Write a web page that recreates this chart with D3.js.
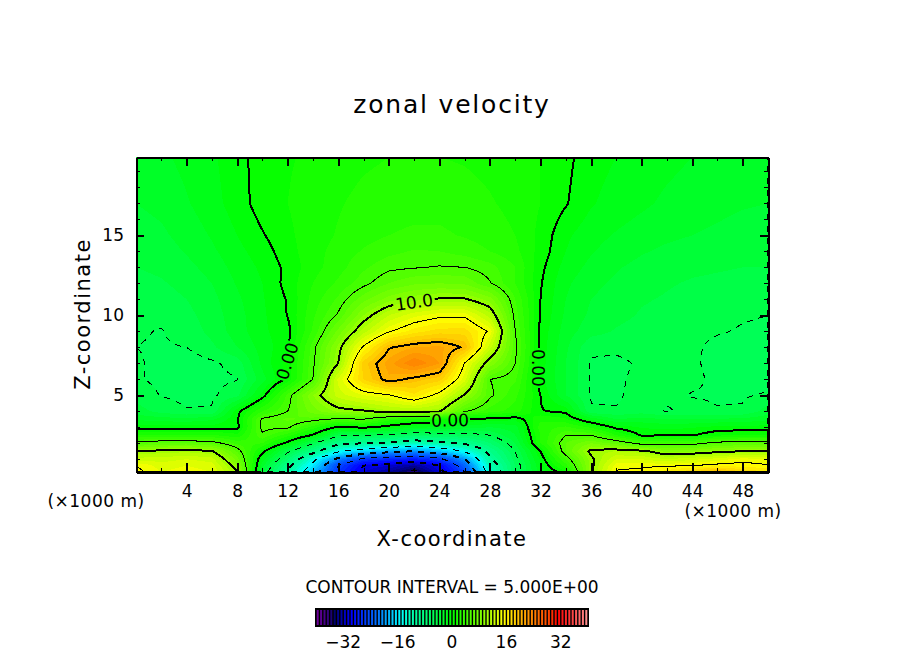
<!DOCTYPE html>
<html>
<head>
<meta charset="utf-8">
<script src="https://cdn.jsdelivr.net/npm/d3@7/dist/d3.min.js"></script>
<style>
  html, body { margin: 0; padding: 0; background: #fff; }
  svg { display: block; }
  text { font-family: "DejaVu Sans", sans-serif; fill: #000; }
</style>
</head>
<body>
<div class="chart"></div>
<script>
// x nodes (in 1000 m) and z nodes of the velocity table
var xNodes = [0, 2, 4, 6, 8, 10, 12, 14, 16, 18, 20, 22, 24, 26, 28, 30, 32, 34, 36, 38, 40, 42, 44, 46, 48, 50];
var zNodes = [0.2, 0.6, 1, 1.5, 2, 2.5, 3, 3.5, 4, 5, 6, 7, 8, 9, 10, 11, 12, 13, 14, 15, 17, 19.9];

// one row per z node, bottom row first
var zonalVelocity = [
  [15.5, 14, 14.5, 14, 10.2, -3.5, -10.5, -18, -26, -31, -33, -36, -31, -25, -13, -6, -1.5, 0.7, 9.7, 15.2, 15.5, 16.5, 18, 20.4, 18, 17],
  [15, 13.5, 14, 13.5, 9, -2.6, -9, -16, -25, -30, -31, -33, -30, -23, -12, -6, -1.2, 2.5, 9.5, 14.5, 14.7, 14.8, 15, 15.5, 15.6, 15.2],
  [12.5, 12.5, 13, 12.5, 7.6, -1.5, -6.8, -14, -21, -26, -27, -28, -26, -20, -10.5, -5.5, -0.8, 4, 9.6, 13, 13, 12, 12.7, 13.5, 14.5, 14],
  [10, 10.5, 10.7, 10.2, 5.8, 0.5, -4.6, -8.5, -14.5, -17, -19, -20, -18, -14.5, -9, -5, 0, 6, 10.5, 11, 10.5, 8.6, 8.8, 9.5, 10, 10],
  [5.5, 6.2, 6.3, 5.8, 3.7, 3, -0.5, -4.8, -9, -10, -10.5, -12, -11, -9.5, -7, -4, 2, 6, 8, 6.5, 4.2, 4.2, 4.3, 5.7, 6, 6],
  [2, 2.1, 2.1, 2.1, 1.3, 4.8, 2.4, -0.2, -4.5, -5, -5.5, -6.5, -6, -5.8, -5, -3, 2, 5, 5, 2, -0.2, -0.1, -0.1, 0.8, 1, 1],
  [-0.4, -0.5, -0.5, -0.5, -0.4, 5.4, 5.3, 2.5, -0.3, 0.3, -0.6, -1.7, -2, -2.5, -3, -2.5, 2.5, 3.2, 1.8, -0.4, -1.1, -1.3, -1.1, -0.7, -0.6, -0.6],
  [-2.2, -2.5, -2.7, -2.2, -0.2, 5.3, 6.2, 5.6, 4.6, 5, 2.5, 1.7, 1.2, -0.3, -0.4, -0.8, 1.8, 1.2, -1.3, -3, -2.6, -3, -3, -2.9, -2.7, -2.3],
  [-3.5, -4.4, -4.9, -4.9, -0.4, 3, 5, 7.5, 9.3, 9.8, 10.8, 11, 10.3, 5.2, 3.5, 2.5, 0.1, -0.3, -4.9, -4.9, -4.5, -5.1, -4.7, -4.95, -4.9, -3.5],
  [-4.5, -5.05, -5.3, -5.2, -4.3, -0.6, 4.3, 9, 12.5, 14, 14.8, 16.8, 14.3, 9.8, 5.3, 3.3, 0, -3, -5.1, -5.2, -4.5, -4.8, -5.05, -5.1, -5.1, -4.9],
  [-4.9, -5.2, -5.6, -5.3, -5.05, -2.4, 0.3, 5, 13.3, 18, 20.8, 19.5, 18.5, 13.5, 5, 4.2, -0.7, -3, -5.1, -5.2, -4.7, -4.7, -4.8, -5.2, -5.5, -5.3],
  [-4.9, -5.2, -5.6, -5.2, -4.6, -1.7, 0.4, 4.7, 10, 18.5, 21.5, 24, 22, 14.9, 8.8, 5, -0.5, -3, -5.1, -5.3, -4.8, -4.7, -4.9, -5.2, -5.5, -5.6],
  [-5, -5.1, -5, -4.2, -3, -1.6, -0.2, 4.5, 9.3, 15.3, 19.8, 21, 21.3, 19.8, 12.4, 5.4, -0.4, -2.8, -4.8, -4.7, -4.6, -4.6, -4.8, -5.3, -5.5, -5.6],
  [-4.9, -5.05, -4.6, -3.7, -2.5, -1.2, -0.4, 3.2, 7.3, 11.5, 14.8, 16.5, 17.5, 17.5, 14.7, 5, -0.3, -2.5, -3.6, -4.1, -4.4, -4.6, -4.7, -4.9, -5.1, -5.2],
  [-4.9, -4.8, -4.3, -3.5, -2.4, -1.2, 0.05, 2.8, 5.2, 9, 12, 13.7, 14.6, 14.7, 11.5, 4.5, -0.1, -2.2, -3.2, -3.7, -4.1, -4.3, -4.5, -4.7, -4.9, -5],
  [-4.6, -4.4, -4, -3.3, -2.2, -1.1, 0.1, 2.4, 4.2, 6.6, 8.5, 9.6, 10.2, 10.2, 8.5, 4, 0, -2, -3, -3.5, -3.9, -4.1, -4.3, -4.4, -4.5, -4.6],
  [-4.3, -4.1, -3.7, -3, -1.9, -1, 0.4, 2, 3.2, 4.6, 6, 6.8, 7, 6.8, 5.1, 3, 0.1, -1.8, -2.7, -3.2, -3.6, -3.9, -4.1, -4.2, -4.3, -4.3],
  [-4, -3.8, -3.3, -2.6, -1.6, -0.8, 0.3, 1.6, 2.6, 3.8, 4.7, 4.9, 5.1, 5, 4.4, 3, 0.3, -1.4, -2.3, -2.9, -3.3, -3.6, -3.8, -3.9, -4, -4],
  [-3.8, -3.5, -2.9, -2.2, -1.3, -0.5, 0.6, 1.6, 2.4, 3.1, 3.7, 4.1, 4, 3.6, 3, 2.3, 0.6, -1, -1.9, -2.5, -2.9, -3.2, -3.4, -3.6, -3.7, -3.8],
  [-3.5, -3.2, -2.6, -1.9, -1, -0.1, 0.8, 1.5, 2.1, 2.6, 3, 3.2, 3.2, 2.9, 2.5, 2, 0.7, -0.8, -1.6, -2.1, -2.5, -2.8, -3, -3.2, -3.4, -3.5],
  [-3, -2.7, -2.1, -1.4, -0.5, 0.5, 1, 1.5, 1.9, 2.3, 2.5, 2.6, 2.6, 2.4, 2.1, 1.7, 1, 0.1, -0.9, -1.4, -1.8, -2.2, -2.5, -2.7, -2.9, -3],
  [-2.5, -2.2, -1.7, -1.2, -0.3, 0.4, 0.9, 1.2, 1.5, 1.8, 2, 2, 2, 1.9, 1.7, 1.3, 1, 0.3, -0.6, -1, -1.4, -1.7, -2, -2.2, -2.4, -2.5]
];

// ticks and labels
var xMajorTicks = [4, 8, 12, 16, 20, 24, 28, 32, 36, 40, 44, 48];
var xMinorTicks = [2, 6, 10, 14, 18, 22, 26, 30, 34, 38, 42, 46];
var zMajorTicks = [5, 10, 15];
var zMinorTicks = [1, 2, 3, 4, 6, 7, 8, 9, 11, 12, 13, 14, 16, 17, 18, 19];
var barTicks = [-32, -16, 0, 16, 32];
var contourLevels = [-35, -30, -25, -20, -15, -10, -5, 0, 5, 10, 15, 20];

// colour table, same stops as the bar
var colorStops = [-40, -36, -34.5, -29.5, -21.6, -15, -12, -7, 0, 8.7, 15.2, 21, 29, 31, 35, 40];
var colorValues = ["#7800a0", "#280078", "#00006e", "#0000ff", "#0078ff", "#00ffff", "#00ffb4", "#00ff6e",
  "#00ff00", "#82ff00", "#ffff00", "#ffaa00", "#ff3c00", "#ff0000", "#ff3c3c", "#ff9696"];

var svgWidth = 904;
var svgHeight = 654;

var margin = { top: 157, right: 136, bottom: 182, left: 136 };
var width = svgWidth - margin.left - margin.right;
var height = svgHeight - margin.top - margin.bottom;

var svg = d3.select(".chart")
  .append("svg")
  .attr("width", svgWidth)
  .attr("height", svgHeight);

var chartGroup = svg.append("g")
  .attr("transform", `translate(${margin.left}, ${margin.top})`);

var xScale = d3.scaleLinear().domain([0, 50]).range([0, width]);
var zScale = d3.scaleLinear().domain([0.2, 19.9]).range([height, 0]);
var color = d3.scaleLinear().domain(colorStops).range(colorValues);

// bilinear lookup in the table
function velocityAt(x, z) {
  var i = Math.min(d3.bisectRight(xNodes, x) - 1, xNodes.length - 2);
  var j = Math.min(d3.bisectRight(zNodes, z) - 1, zNodes.length - 2);
  i = Math.max(i, 0);
  j = Math.max(j, 0);
  var tx = (x - xNodes[i]) / (xNodes[i + 1] - xNodes[i]);
  var tz = (z - zNodes[j]) / (zNodes[j + 1] - zNodes[j]);
  var low = zonalVelocity[j][i] * (1 - tx) + zonalVelocity[j][i + 1] * tx;
  var high = zonalVelocity[j + 1][i] * (1 - tx) + zonalVelocity[j + 1][i + 1] * tx;
  return low * (1 - tz) + high * tz;
}

// sample the table once per pixel for d3.contours
var grid = new Float64Array(width * height);
for (var py = 0; py < height; py++) {
  for (var px = 0; px < width; px++) {
    grid[py * width + px] = velocityAt(xScale.invert(px + 0.5), zScale.invert(py + 0.5));
  }
}

var contours = d3.contours().size([width, height]);
var path = d3.geoPath();

// filled bands, one colour per unit of velocity
var bandLevels = d3.range(-40, 41);
chartGroup.append("rect")
  .attr("width", width)
  .attr("height", height)
  .attr("fill", color(-40));

chartGroup.append("g")
  .selectAll("path")
  .data(contours.thresholds(bandLevels)(grid))
  .enter()
  .append("path")
  .attr("d", path)
  .attr("fill", d => color(d.value + 0.5))
  .attr("shape-rendering", "crispEdges");

// contour labels sit in gaps in the lines
var contourLabels = [
  { text: "10.0", x: 414, y: 302, angle: -8, w: 42, h: 16 },
  { text: "0.00", x: 450, y: 420, angle: -1, w: 40, h: 16 },
  { text: "0.00", x: 287, y: 361, angle: -72, w: 40, h: 14 },
  { text: "0.00", x: 538, y: 368, angle: 90, w: 40, h: 14 }
];

var mask = svg.append("defs").append("mask")
  .attr("id", "label-gaps")
  .attr("maskUnits", "userSpaceOnUse")
  .attr("x", 0).attr("y", 0)
  .attr("width", width).attr("height", height);

mask.append("rect")
  .attr("width", width)
  .attr("height", height)
  .attr("fill", "#fff");

mask.selectAll("rect.gap")
  .data(contourLabels)
  .enter()
  .append("rect")
  .attr("class", "gap")
  .attr("x", d => -d.w / 2)
  .attr("y", d => -d.h / 2)
  .attr("width", d => d.w)
  .attr("height", d => d.h)
  .attr("fill", "#000")
  .attr("transform", d => `translate(${d.x - margin.left}, ${d.y - margin.top}) rotate(${d.angle})`);

// contour lines: every other level is heavy, negative levels are dashed
chartGroup.append("g")
  .attr("mask", "url(#label-gaps)")
  .selectAll("path")
  .data(contours.thresholds(contourLevels)(grid))
  .enter()
  .append("path")
  .attr("d", path)
  .attr("fill", "none")
  .attr("stroke", "#000")
  .attr("stroke-width", d => d.value % 10 === 0 ? 2 : 1)
  .attr("stroke-dasharray", d => d.value < 0 ? "6 6" : null)
  .attr("shape-rendering", "crispEdges");

chartGroup.selectAll("text.contour-label")
  .data(contourLabels)
  .enter()
  .append("text")
  .attr("class", "contour-label")
  .attr("text-anchor", "middle")
  .attr("dy", "0.37em")
  .attr("font-size", 17)
  .attr("transform", d => `translate(${d.x - margin.left}, ${d.y - margin.top}) rotate(${d.angle})`)
  .text(d => d.text);

// frame and ticks on all four sides
function drawAxis(axis, dx, dy, tickWidth) {
  var g = chartGroup.append("g")
    .attr("transform", `translate(${dx}, ${dy})`)
    .call(axis);
  g.select(".domain").attr("stroke-width", 2).attr("shape-rendering", "crispEdges");
  g.selectAll(".tick line").attr("stroke-width", tickWidth).attr("shape-rendering", "crispEdges");
  g.selectAll("text").attr("font-size", 17).attr("font-family", "DejaVu Sans");
  return g;
}

function noLabels(axis) {
  return axis.tickFormat("").tickSizeOuter(0);
}

drawAxis(d3.axisBottom(xScale).tickValues(xMajorTicks).tickFormat(d3.format("d"))
  .tickSizeInner(-9).tickSizeOuter(0).tickPadding(13), 0, height, 2);
drawAxis(noLabels(d3.axisBottom(xScale).tickValues(xMinorTicks).tickSizeInner(-4)), 0, height, 1);
drawAxis(noLabels(d3.axisTop(xScale).tickValues(xMajorTicks).tickSizeInner(-9)), 0, 0, 2);
drawAxis(noLabels(d3.axisTop(xScale).tickValues(xMinorTicks).tickSizeInner(-4)), 0, 0, 1);

drawAxis(d3.axisLeft(zScale).tickValues(zMajorTicks).tickFormat(d3.format("d"))
  .tickSizeInner(-8).tickSizeOuter(0).tickPadding(12), 0, 0, 2);
drawAxis(noLabels(d3.axisLeft(zScale).tickValues(zMinorTicks).tickSizeInner(-4)), 0, 0, 1);
drawAxis(noLabels(d3.axisRight(zScale).tickValues(zMajorTicks).tickSizeInner(-8)), width, 0, 2);
drawAxis(noLabels(d3.axisRight(zScale).tickValues(zMinorTicks).tickSizeInner(-4)), width, 0, 1);

// titles
svg.append("text")
  .attr("x", 452).attr("y", 113)
  .attr("text-anchor", "middle")
  .attr("font-size", 25)
  .attr("letter-spacing", 1.8)
  .text("zonal velocity");

svg.append("text")
  .attr("x", 452).attr("y", 546)
  .attr("text-anchor", "middle")
  .attr("font-size", 21)
  .attr("letter-spacing", 1.5)
  .text("X-coordinate");

svg.append("text")
  .attr("transform", "translate(90, 314) rotate(-90)")
  .attr("text-anchor", "middle")
  .attr("font-size", 21)
  .attr("letter-spacing", 1.5)
  .text("Z-coordinate");

svg.append("text")
  .attr("x", 96).attr("y", 507)
  .attr("text-anchor", "middle")
  .attr("font-size", 17)
  .attr("letter-spacing", 0.5)
  .text("(×1000 m)");

svg.append("text")
  .attr("x", 733).attr("y", 517)
  .attr("text-anchor", "middle")
  .attr("font-size", 17)
  .attr("letter-spacing", 0.5)
  .text("(×1000 m)");

svg.append("text")
  .attr("x", 452).attr("y", 593)
  .attr("text-anchor", "middle")
  .attr("font-size", 17)
  .text("CONTOUR INTERVAL = 5.000E+00");

// colour bar
var barScale = d3.scaleLinear().domain([-40, 40]).range([316, 588]);
var barGroup = svg.append("g");

barGroup.append("rect")
  .attr("x", barScale(-40) - 1)
  .attr("y", 608)
  .attr("width", barScale(40) - barScale(-40) + 2)
  .attr("height", 19)
  .attr("fill", "#000");

barGroup.selectAll("rect.band")
  .data(d3.range(-40, 40))
  .enter()
  .append("rect")
  .attr("class", "band")
  .attr("x", d => barScale(d) + 0.7)
  .attr("y", 610)
  .attr("width", 2)
  .attr("height", 15)
  .attr("fill", d => color(d + 0.5));

barGroup.selectAll("text")
  .data(barTicks)
  .enter()
  .append("text")
  .attr("x", d => barScale(d))
  .attr("y", 648)
  .attr("text-anchor", "middle")
  .attr("font-size", 17)
  .text(d => d3.format("d")(d));
</script>
</body>
</html>
